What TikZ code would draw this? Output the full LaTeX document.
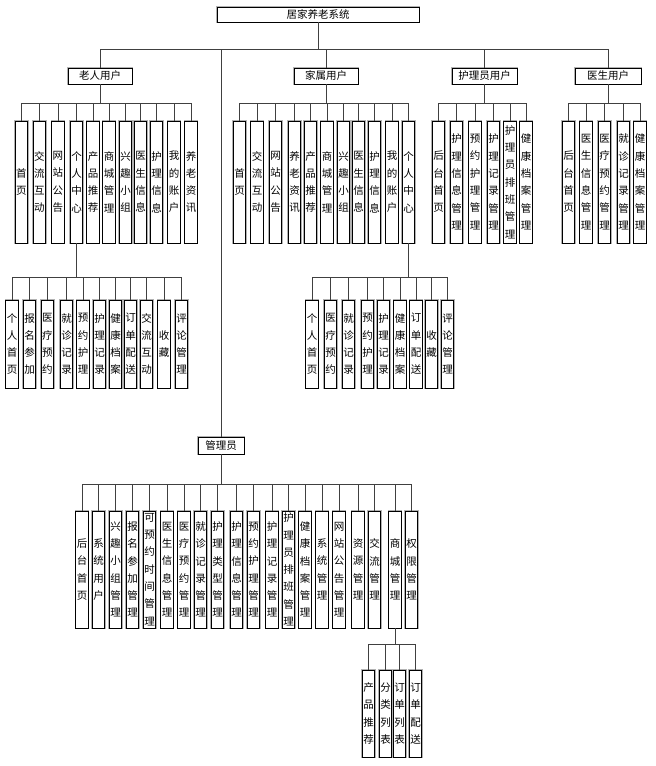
\documentclass[tikz,border=0pt]{standalone}
\usepackage{fontspec}
\setmainfont{Noto Sans CJK SC}
\begin{document}
\begin{tikzpicture}[x=1pt,y=-1pt,
  box/.style={draw=black, line width=0.7pt, preaction={draw=gray!60, line width=2.4pt}, fill=white, inner sep=0pt, align=center},
  hbox/.style={box, font=\fontsize{10.5}{12}\selectfont},
  vbox/.style={box, font=\fontsize{10.5}{17.3}\selectfont, minimum width=12.5pt, text width=12pt},
  lv2/.style={vbox, minimum height=122pt},
  lv3/.style={vbox, minimum height=88pt},
  adm/.style={vbox, minimum height=117pt},
  conn/.style={draw=black!75, line width=0.8pt}]
\useasboundingbox (0,0) rectangle (656,766);
% top level
\node[hbox, minimum width=202pt, minimum height=15pt] (root) at (318,14.5) {居家养老系统};
\node[hbox, minimum width=64pt, minimum height=16pt] (eld) at (100,76) {老人用户};
\node[hbox, minimum width=64pt, minimum height=16pt] (fam) at (326,76) {家属用户};
\node[hbox, minimum width=65pt, minimum height=16pt] (nur) at (484.5,76) {护理员用户};
\node[hbox, minimum width=66pt, minimum height=16pt] (doc) at (608,76) {医生用户};
\node[hbox, minimum width=46pt, minimum height=17pt] (adm) at (221,445.5) {管理员};
% elder
\node[lv2] (e1) at (21.5,182) {首\\页};
\node[lv2] (e2) at (39.5,182) {交\\流\\互\\动};
\node[lv2] (e3) at (58,182) {网\\站\\公\\告};
\node[lv2] (e4) at (76.5,182) {个\\人\\中\\心};
\node[lv2] (e5) at (93,182) {产\\品\\推\\荐};
\node[lv2] (e6) at (109,182) {商\\城\\管\\理};
\node[lv2] (e7) at (125.5,182) {兴\\趣\\小\\组};
\node[lv2] (e8) at (140.5,182) {医\\生\\信\\息};
\node[lv2] (e9) at (156.5,182) {护\\理\\信\\息};
\node[lv2] (e10) at (174,182) {我\\的\\账\\户};
\node[lv2] (e11) at (191,182) {养\\老\\资\\讯};
% family
\node[lv2] (f1) at (239.5,182) {首\\页};
\node[lv2] (f2) at (257,182) {交\\流\\互\\动};
\node[lv2] (f3) at (275.5,182) {网\\站\\公\\告};
\node[lv2] (f4) at (294.5,182) {养\\老\\资\\讯};
\node[lv2] (f5) at (310.5,182) {产\\品\\推\\荐};
\node[lv2] (f6) at (327,182) {商\\城\\管\\理};
\node[lv2] (f7) at (343.5,182) {兴\\趣\\小\\组};
\node[lv2] (f8) at (358.5,182) {医\\生\\信\\息};
\node[lv2] (f9) at (374.5,182) {护\\理\\信\\息};
\node[lv2] (f10) at (392,182) {我\\的\\账\\户};
\node[lv2] (f11) at (408.5,182) {个\\人\\中\\心};
% nurse
\node[lv2] (n1) at (438.5,182) {后\\台\\首\\页};
\node[lv2] (n2) at (456.5,182) {护\\理\\信\\息\\管\\理};
\node[lv2] (n3) at (475,182) {预\\约\\护\\理\\管\\理};
\node[lv2] (n4) at (493.5,182) {护\\理\\记\\录\\管\\理};
\node[lv2] (n5) at (510,182) {护\\理\\员\\排\\班\\管\\理};
\node[lv2] (n6) at (526,182) {健\\康\\档\\案\\管\\理};
% doctor
\node[lv2] (d1) at (568.5,182) {后\\台\\首\\页};
\node[lv2] (d2) at (586,182) {医\\生\\信\\息\\管\\理};
\node[lv2] (d3) at (604.5,182) {医\\疗\\预\\约\\管\\理};
\node[lv2] (d4) at (623.5,182) {就\\诊\\记\\录\\管\\理};
\node[lv2] (d5) at (640,182) {健\\康\\档\\案\\管\\理};
% elder personal
\node[lv3] (ep1) at (12,344) {个\\人\\首\\页};
\node[lv3] (ep2) at (29.5,344) {报\\名\\参\\加};
\node[lv3] (ep3) at (47.5,344) {医\\疗\\预\\约};
\node[lv3] (ep4) at (66.5,344) {就\\诊\\记\\录};
\node[lv3] (ep5) at (83,344) {预\\约\\护\\理};
\node[lv3] (ep6) at (99.5,344) {护\\理\\记\\录};
\node[lv3] (ep7) at (115.5,344) {健\\康\\档\\案};
\node[lv3] (ep8) at (130.5,344) {订\\单\\配\\送};
\node[lv3] (ep9) at (146.5,344) {交\\流\\互\\动};
\node[lv3] (ep10) at (164,344) {收\\藏};
\node[lv3] (ep11) at (181.5,344) {评\\论\\管\\理};
% family personal
\node[lv3] (fp1) at (312,344) {个\\人\\首\\页};
\node[lv3] (fp2) at (330.5,344) {医\\疗\\预\\约};
\node[lv3] (fp3) at (348.5,344) {就\\诊\\记\\录};
\node[lv3] (fp4) at (367.5,344) {预\\约\\护\\理};
\node[lv3] (fp5) at (383.5,344) {护\\理\\记\\录};
\node[lv3] (fp6) at (400,344) {健\\康\\档\\案};
\node[lv3] (fp7) at (416,344) {订\\单\\配\\送};
\node[lv3] (fp8) at (431.5,344) {收\\藏};
\node[lv3] (fp9) at (447.5,344) {评\\论\\管\\理};
% admin
\node[adm] (a1) at (82,569.5) {后\\台\\首\\页};
\node[adm] (a2) at (98.5,569.5) {系\\统\\用\\户};
\node[adm] (a3) at (115.5,569.5) {兴\\趣\\小\\组\\管\\理};
\node[adm] (a4) at (132.5,569.5) {报\\名\\参\\加\\管\\理};
\node[adm] (a5) at (149.5,569.5) {可\\预\\约\\时\\间\\管\\理};
\node[adm] (a6) at (167,569.5) {医\\生\\信\\息\\管\\理};
\node[adm] (a7) at (184,569.5) {医\\疗\\预\\约\\管\\理};
\node[adm] (a8) at (200.5,569.5) {就\\诊\\记\\录\\管\\理};
\node[adm] (a9) at (217.5,569.5) {护\\理\\类\\型\\管\\理};
\node[adm] (a10) at (236.5,569.5) {护\\理\\信\\息\\管\\理};
\node[adm] (a11) at (253.5,569.5) {预\\约\\护\\理\\管\\理};
\node[adm] (a12) at (272,569.5) {护\\理\\记\\录\\管\\理};
\node[adm] (a13) at (288.5,569.5) {护\\理\\员\\排\\班\\管\\理};
\node[adm] (a14) at (305,569.5) {健\\康\\档\\案\\管\\理};
\node[adm] (a15) at (322,569.5) {系\\统\\管\\理};
\node[adm] (a16) at (339,569.5) {网\\站\\公\\告\\管\\理};
\node[adm] (a17) at (358,569.5) {资\\源\\管\\理};
\node[adm] (a18) at (374.5,569.5) {交\\流\\管\\理};
\node[adm] (a19) at (395,569.5) {商\\城\\管\\理};
\node[adm] (a20) at (411.5,569.5) {权\\限\\管\\理};
% mall
\node[vbox, minimum height=87pt] (m1) at (368.5,713.5) {产\\品\\推\\荐};
\node[vbox, minimum height=87pt] (m2) at (385.5,713.5) {分\\类\\列\\表};
\node[vbox, minimum height=87pt] (m3) at (399.5,713.5) {订\\单\\列\\表};
\node[vbox, minimum height=87pt] (m4) at (415.5,713.5) {订\\单\\配\\送};
% buses
\coordinate (b0) at (318,49);
\coordinate (be) at (100,103);
\coordinate (bf) at (326,103);
\coordinate (bn) at (484.5,103);
\coordinate (bd) at (608,103);
\coordinate (bep) at (76.5,277);
\coordinate (bfp) at (408.5,277);
\coordinate (ba) at (221,484);
\coordinate (bm) at (395,644);
% connectors
\draw[conn] (root.south) -- (b0);
\foreach \n in {eld,fam,nur,doc,adm} \draw[conn] (b0) -| (\n.north);
\draw[conn] (eld.south) -- (be);
\foreach \n in {e1,e2,e3,e4,e5,e6,e7,e8,e9,e10,e11} \draw[conn] (be) -| (\n.north);
\draw[conn] (fam.south) -- (bf);
\foreach \n in {f1,f2,f3,f4,f5,f6,f7,f8,f9,f10,f11} \draw[conn] (bf) -| (\n.north);
\draw[conn] (nur.south) -- (bn);
\foreach \n in {n1,n2,n3,n4,n5,n6} \draw[conn] (bn) -| (\n.north);
\draw[conn] (doc.south) -- (bd);
\foreach \n in {d1,d2,d3,d4,d5} \draw[conn] (bd) -| (\n.north);
\draw[conn] (e4.south) -- (bep);
\foreach \n in {ep1,ep2,ep3,ep4,ep5,ep6,ep7,ep8,ep9,ep10,ep11} \draw[conn] (bep) -| (\n.north);
\draw[conn] (f11.south) -- (bfp);
\foreach \n in {fp1,fp2,fp3,fp4,fp5,fp6,fp7,fp8,fp9} \draw[conn] (bfp) -| (\n.north);
\draw[conn] (adm.south) -- (ba);
\foreach \n in {a1,a2,a3,a4,a5,a6,a7,a8,a9,a10,a11,a12,a13,a14,a15,a16,a17,a18,a19,a20} \draw[conn] (ba) -| (\n.north);
\draw[conn] (a19.south) -- (bm);
\foreach \n in {m1,m2,m3,m4} \draw[conn] (bm) -| (\n.north);
\end{tikzpicture}
\end{document}
